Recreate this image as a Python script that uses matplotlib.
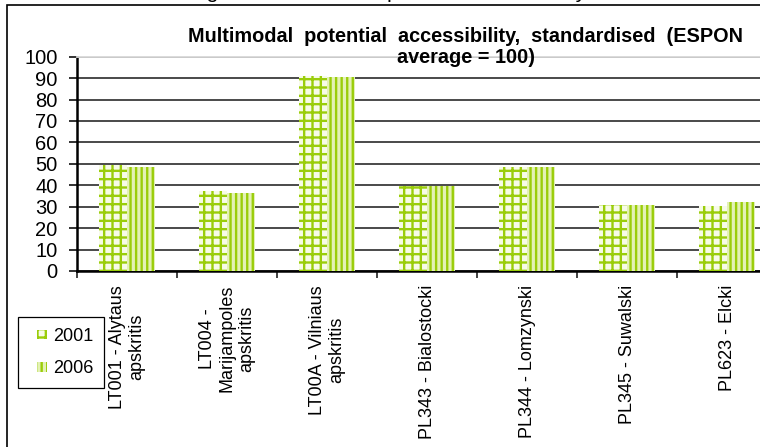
import matplotlib
matplotlib.use("Agg")
import matplotlib.pyplot as plt
from matplotlib.patches import Rectangle
from matplotlib.container import BarContainer
from matplotlib.legend_handler import HandlerPatch, update_from_first_child
import numpy as np

plt.rcParams['font.family'] = ['Liberation Sans', 'DejaVu Sans']
plt.rcParams['hatch.linewidth'] = 1.7

# Regions (NUTS 3) and index values
regions = [
    "LT001 - Alytaus\napskritis",
    "LT004 -\nMarijampoles\napskritis",
    "LT00A - Vilniaus\napskritis",
    "PL343 - Bialostocki",
    "PL344 - Lomzynski",
    "PL345 - Suwalski",
    "PL623 - Elcki",
]
values_2001 = [49.3, 37.2, 90.8, 39.8, 48.6, 30.7, 30.3]
values_2006 = [48.5, 36.6, 90.5, 39.8, 48.6, 30.7, 32.1]
series_labels = ["2001", "2006"]
y_ticks = list(range(0, 101, 10))

W, H = 760, 447
fig = plt.figure(figsize=(W / 100, H / 100), dpi=100)
fig.patch.set_facecolor('white')

# Plot area runs past the right edge of the canvas
left_px, right_px, top_px, bottom_px = 77, 777, 56.7, 271
ax = fig.add_axes([left_px / W, 1 - bottom_px / H,
                   (right_px - left_px) / W, (bottom_px - top_px) / H])

green = '#9ACD0A'
x = np.arange(len(regions)) + 0.5
bw = 0.28
ax.bar(x - bw / 2, values_2001, bw, facecolor='#F7FBE8', edgecolor=green,
       hatch='++', linewidth=0, label=series_labels[0], zorder=3)
ax.bar(x + bw / 2, values_2006, bw, facecolor='#E3F1B5', edgecolor=green,
       hatch='|||', linewidth=0, label=series_labels[1], zorder=3)

ax.set_xlim(0, len(regions))
ax.set_ylim(0, 100)
ax.set_yticks(y_ticks)
ax.tick_params(axis='y', direction='out', length=6, width=1.3,
               labelsize=14.5, pad=8, color='#222222')
ax.set_axisbelow(True)
ax.yaxis.grid(True, color='#3c3c3c', linewidth=1.3)

# Category boundaries as ticks, names at the centres
ax.set_xticks(np.arange(len(regions) + 1))
ax.set_xticklabels([])
ax.set_xticks(x, minor=True)
ax.set_xticklabels(regions, minor=True, rotation=90, fontsize=13,
                   ha='center', va='top', multialignment='center')
ax.tick_params(axis='x', which='major', direction='out', length=5,
               width=1.2, color='#222222')
ax.tick_params(axis='x', which='minor', length=0, pad=10)

for side in ('left', 'bottom'):
    ax.spines[side].set_linewidth(1.8)
    ax.spines[side].set_color('black')
ax.spines['top'].set_color('#d8d8d8')
ax.spines['top'].set_linewidth(1.3)
ax.spines['right'].set_visible(False)

# Chart title
fig.text(466 / W, 1 - 27 / H,
         "Multimodal  potential  accessibility,  standardised  (ESPON\naverage = 100)",
         ha='center', va='top', fontsize=14.3, fontweight='bold',
         linespacing=1.12)

# Figure caption above the frame
fig.text(189 / W, 1 + 1.5 / H,
         "Figure 5: Multimodal potential accessibility",
         ha='left', va='baseline', fontsize=15.3)

# Outer frame of the chart
fig.patches.append(Rectangle((7 / W, -0.2), 1.2, 1.2 - 5 / H,
                             transform=fig.transFigure, fill=False,
                             edgecolor='black', linewidth=1.2))


def small_patch(legend, orig_handle, xdescent, ydescent, width, height, fontsize):
    s = 0.55 * fontsize
    return Rectangle((width - s - xdescent, (height - s) / 2 - ydescent), s, s)


handles, labels = ax.get_legend_handles_labels()
leg = fig.legend(handles, labels, loc='upper left',
                 bbox_to_anchor=(18 / W, 1 - 317 / H), borderaxespad=0,
                 fontsize=13, frameon=True, fancybox=False, shadow=False,
                 borderpad=0.6, labelspacing=0.85, handlelength=1.0,
                 handletextpad=0.35,
                 handler_map={BarContainer: HandlerPatch(
                     patch_func=small_patch,
                     update_func=update_from_first_child)})
leg.get_frame().set_edgecolor('black')
leg.get_frame().set_linewidth(0.9)
leg.get_frame().set_alpha(1)

fig.savefig('out.png', dpi=100)
